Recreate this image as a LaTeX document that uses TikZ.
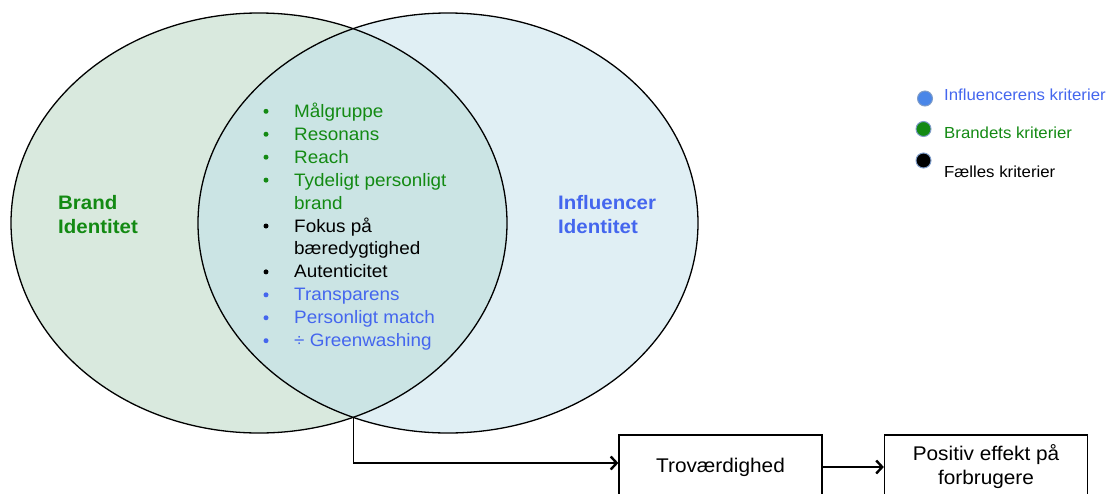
\documentclass[tikz,border=0pt]{standalone}
\usepackage{fontspec}
\setmainfont[FakeStretch=1.05]{Liberation Sans}
\usetikzlibrary{arrows.meta}
\definecolor{brandfill}{HTML}{D9E9DE}
\definecolor{inflfill}{HTML}{E0EFF4}
\definecolor{bothfill}{HTML}{CBE4E4}
\definecolor{brandgreen}{HTML}{138A13}
\definecolor{inflblue}{HTML}{4466EE}
\definecolor{dotblue}{HTML}{4A86E8}
\definecolor{dotrim}{HTML}{7F9CC8}
\tikzset{
  outline/.style={draw=black, line width=1.3pt},
  itemtext/.style={anchor=base west, inner sep=0pt, font=\fontsize{18}{21}\selectfont},
  itemdot/.style={circle, inner sep=0pt, minimum size=5pt},
  title/.style={anchor=base west, inner sep=0pt, align=left, font=\bfseries\fontsize{19.5}{24}\selectfont},
  legenddot/.style={circle, inner sep=0pt, minimum size=15pt, draw=dotrim, line width=1pt},
  legendtext/.style={anchor=base west, inner sep=0pt, font=\fontsize{16}{20}\selectfont},
  stepbox/.style={draw=black, line width=1.3pt, minimum width=203pt, minimum height=64pt,
    align=center, font=\fontsize{19.8}{24}\selectfont},
  flow/.style={line width=1.3pt, -{Straight Barb[length=6pt, width=13pt, line width=2.4pt]}},
}
\begin{document}
\begin{tikzpicture}[x=1pt, y=-1pt]
\useasboundingbox (0,0) rectangle (1111,493);
\clip (0,0) rectangle (1111,493);

% the two identities and their overlap
\def\brandset{(259,223) ellipse [x radius=248, y radius=210]}
\def\inflset{(448,223) ellipse [x radius=250, y radius=210]}
\fill[brandfill] \brandset;
\fill[inflfill] \inflset;
\begin{scope}
  \clip \brandset;
  \fill[bothfill] \inflset;
\end{scope}
\draw[outline] \brandset;
\draw[outline] \inflset;
\coordinate (meet) at (353.5,418);

% set titles (base anchor sits on the last line)
\node[title, text=brandgreen] (brand) at (58,233) {Brand\\Identitet};
\node[title, text=inflblue] (infl) at (558,233) {Influencer\\Identitet};

% shared criteria list
\foreach \txt/\col/\row/\dotted [count=\i] in {
  Målgruppe/brandgreen/0/1,
  Resonans/brandgreen/1/1,
  Reach/brandgreen/2/1,
  Tydeligt personligt/brandgreen/3/1,
  brand/brandgreen/4/0,
  Fokus på/black/5/1,
  bæredygtighed/black/6/0,
  Autenticitet/black/7/1,
  Transparens/inflblue/8/1,
  Personligt match/inflblue/9/1,
  ÷ Greenwashing/inflblue/10/1} {
  \pgfmathsetmacro{\yb}{117.3+22.94*\row}
  \node[itemtext, text=\col] (item\i) at (294,\yb) {\txt};
  \ifnum\dotted=1
    \node[itemdot, fill=\col] (bullet\i) at (266,\yb-6) {};
  \fi
}

% legend
\node[legenddot, fill=dotblue] (ldot1) at (925,98.5) {};
\node[legendtext, text=inflblue] (ltext1) at (944,100) {Influencerens kriterier};
\node[legenddot, fill=brandgreen] (ldot2) at (923.5,129) {};
\node[legendtext, text=brandgreen] (ltext2) at (944,138) {Brandets kriterier};
\node[legenddot, fill=black] (ldot3) at (923.5,160.5) {};
\node[legendtext] (ltext3) at (944,177) {Fælles kriterier};

% outcome chain (boxes run past the lower edge)
\node[stepbox] (trust) at (720.5,467) {Troværdighed};
\node[stepbox] (effect) at (986,467) {Positiv effekt på\\forbrugere};
\draw[flow] (meet) |- ([yshift=4pt]trust.west);
\draw[flow] (trust) -- (effect);
\end{tikzpicture}
\end{document}
